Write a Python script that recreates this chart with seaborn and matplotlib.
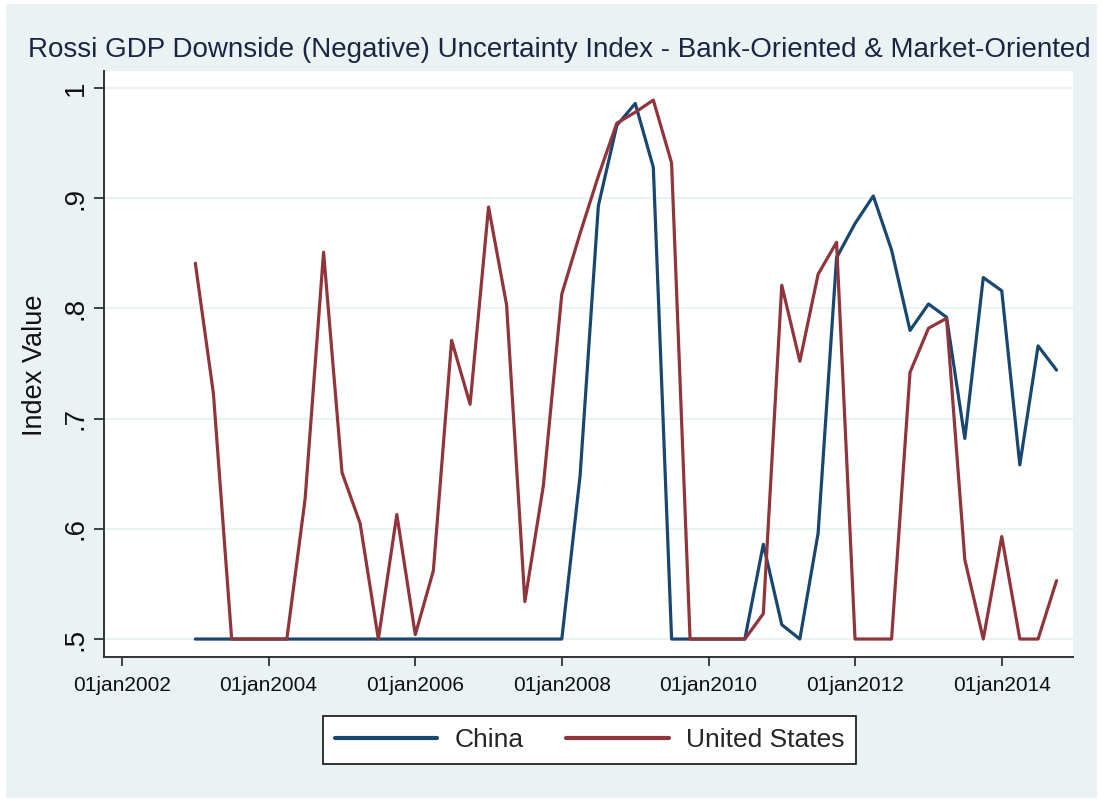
import matplotlib
matplotlib.use("Agg")
import matplotlib.pyplot as plt
from matplotlib.patches import Rectangle
import numpy as np
import pandas as pd
import seaborn as sns

# Quarterly observations, 2003Q1 - 2014Q4
quarters = pd.date_range("2003-01-01", periods=48, freq="QS")

china = [
    0.500, 0.500, 0.500, 0.500,
    0.500, 0.500, 0.500, 0.500,
    0.500, 0.500, 0.500, 0.500,
    0.500, 0.500, 0.500, 0.500,
    0.500, 0.500, 0.500, 0.500,
    0.500, 0.648, 0.893, 0.966,
    0.986, 0.928, 0.500, 0.500,
    0.500, 0.500, 0.500, 0.586,
    0.513, 0.500, 0.596, 0.846,
    0.877, 0.902, 0.853, 0.780,
    0.804, 0.792, 0.682, 0.828,
    0.816, 0.658, 0.766, 0.744,
]

united_states = [
    0.841, 0.723, 0.500, 0.500,
    0.500, 0.500, 0.627, 0.851,
    0.651, 0.605, 0.500, 0.613,
    0.504, 0.562, 0.771, 0.713,
    0.892, 0.803, 0.534, 0.639,
    0.813, 0.868, 0.920, 0.968,
    0.978, 0.989, 0.932, 0.500,
    0.500, 0.500, 0.500, 0.523,
    0.821, 0.752, 0.831, 0.860,
    0.500, 0.500, 0.500, 0.742,
    0.782, 0.791, 0.572, 0.500,
    0.593, 0.500, 0.500, 0.553,
]

series_names = ["China", "United States"]
series_colors = ["#1a476f", "#90353b"]

y_ticks = [0.5, 0.6, 0.7, 0.8, 0.9, 1.0]
y_tick_labels = [".5", ".6", ".7", ".8", ".9", "1"]
x_tick_years = [2002, 2004, 2006, 2008, 2010, 2012, 2014]

title_text = "Rossi GDP Downside (Negative) Uncertainty Index - Bank-Oriented & Market-Oriented"
y_label_text = "Index Value"

df = pd.DataFrame({
    "date": np.concatenate([quarters, quarters]),
    "value": china + united_states,
    "country": [series_names[0]] * len(china) + [series_names[1]] * len(united_states),
})

sns.set_style("white")
plt.rcParams["font.family"] = ["Liberation Sans", "DejaVu Sans"]

BG = "#eaf2f3"
W, H = 1103, 799
fig = plt.figure(figsize=(W / 100, H / 100), dpi=100, facecolor="white")

# outer graph region (drawn beneath the axes)
fig.patches.append(Rectangle((6 / W, 1 - 798 / H), (1097 - 6) / W, (798 - 4) / H,
                             transform=fig.transFigure, facecolor=BG,
                             edgecolor="none", zorder=-10))

ax = fig.add_axes([104 / W, 1 - 657 / H, (1073 - 104) / W, (657 - 71) / H])
ax.set_zorder(2)
ax.set_facecolor("white")

sns.lineplot(data=df, x="date", y="value", hue="country",
             palette=dict(zip(series_names, series_colors)),
             linewidth=2.3, ax=ax, legend=False, zorder=3)

for yt in y_ticks:
    ax.axhline(yt, color=BG, linewidth=1.6, zorder=1)

ax.set_ylim(0.4837, 1.0154)
ax.set_xlim(pd.Timestamp("2001-10-03"), pd.Timestamp("2014-12-22"))

ax.set_yticks(y_ticks)
ax.set_yticklabels(y_tick_labels, rotation=90, va="center", fontsize=20)
ax.set_xticks([pd.Timestamp(f"{y}-01-01") for y in x_tick_years])
ax.set_xticklabels([f"01jan{y}" for y in x_tick_years], fontsize=15)

ax.tick_params(axis="y", direction="out", length=7, width=1.2, color="#222222",
               pad=4, left=True)
ax.tick_params(axis="x", direction="out", length=6.5, width=1.2, color="#222222",
               pad=7.5, bottom=True)
for lab in ax.get_yticklabels() + ax.get_xticklabels():
    lab.set_color("#111111")

for side in ["top", "right"]:
    ax.spines[side].set_visible(False)
for side in ["left", "bottom"]:
    ax.spines[side].set_color("#333333")
    ax.spines[side].set_linewidth(1.4)

ax.set_xlabel("")
ax.set_ylabel("")
ax.grid(False)

fig.text(35 / W, 1 - 365 / H, y_label_text, rotation=90, ha="center", va="center",
         fontsize=19.5, color="#111111")
fig.text(559 / W, 1 - 57 / H, title_text, ha="center", va="baseline",
         fontsize=20, color="#1c2544")

handles = [plt.Line2D([], [], color=c, linewidth=3) for c in series_colors]
leg = fig.legend(handles, series_names, loc="center",
                 bbox_to_anchor=(589.5 / W, 1 - 740 / H), ncol=2,
                 fontsize=19, frameon=True, fancybox=False, framealpha=1,
                 handlelength=3.9, handletextpad=0.65, columnspacing=1.6,
                 borderpad=0.45)
leg.get_frame().set_edgecolor("#111111")
leg.get_frame().set_linewidth(1.2)
leg.get_frame().set_facecolor("white")

fig.savefig("out.png", dpi=100, facecolor="white")
